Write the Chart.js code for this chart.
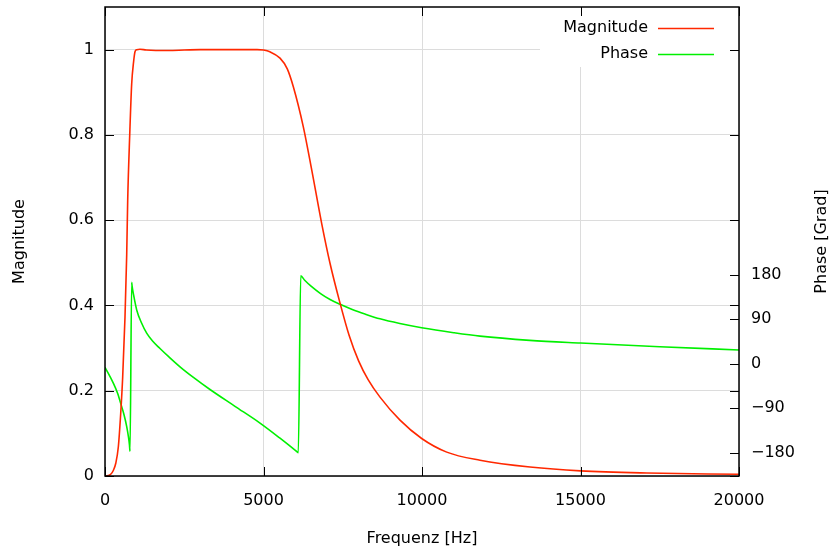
<!DOCTYPE html>
<html>
<head>
<meta charset="utf-8">
<script src="https://cdn.jsdelivr.net/npm/chart.js@4/dist/chart.umd.min.js"></script>
<style>
  html, body { margin: 0; padding: 0; background: #fff; }
  canvas { display: block; }
</style>
</head>
<body>
<canvas id="c" width="833" height="549"></canvas>
<script>
// ---- data ----
const magFreq = [0, 100, 180, 262, 340, 420, 495, 558, 631, 685, 716, 780, 842, 900, 946, 1000, 1100, 1300, 1600, 2000, 2500, 3000, 3500, 4000, 4500, 4800, 5000, 5200, 5521, 5750, 5941, 6256, 6521, 6836, 7098, 7391, 7700, 8000, 8300, 8675, 9306, 9990, 10780, 11830, 13407, 15000, 17090, 20000];
const magValues = [0, 0.001, 0.004, 0.013, 0.03, 0.068, 0.146, 0.232, 0.373, 0.52, 0.647, 0.8, 0.92, 0.97, 0.995, 1.0, 1.001, 0.999, 0.998, 0.998, 0.999, 1.0, 1.0, 1.0, 1.0, 1.0, 0.999, 0.995, 0.98, 0.955, 0.913, 0.819, 0.718, 0.592, 0.499, 0.412, 0.33, 0.27, 0.226, 0.185, 0.131, 0.088, 0.056, 0.037, 0.021, 0.012, 0.007, 0.004];
const phaseFreq = [0, 262, 400, 527, 600, 685, 740, 770, 789, 842, 855, 900, 1000, 1150, 1315, 1500, 1735, 2000, 2366, 2800, 3312, 4100, 4890, 5500, 6050, 6098, 6174, 6300, 6500, 6800, 7100, 7468, 7800, 8200, 8675, 9300, 9990, 11000, 11830, 13400, 15000, 17500, 20000];
const phaseValues = [-7, -39, -60, -87, -103, -127, -148, -163, -177, 165, 157, 140, 109, 83, 62, 46, 31, 15, -6, -28, -52, -86, -120, -149.5, -177.5, -180, 178, 169, 157, 142, 130, 119, 110, 100.8, 91, 81.5, 73, 63, 56, 47.5, 42, 34.5, 28];
const xTicks = [0, 5000, 10000, 15000, 20000];
const magTicks = [0, 0.2, 0.4, 0.6, 0.8, 1];
const phaseTicks = [-180, -90, 0, 90, 180];
const seriesNames = ['Magnitude', 'Phase'];
const axisTitles = { x: 'Frequenz [Hz]', y: 'Magnitude', y2: 'Phase [Grad]' };

// ---- styles ----
const RED = 'rgb(255,40,0)';
const GREEN = 'rgb(0,240,0)';
const FONT = '"DejaVu Sans", "Liberation Sans", sans-serif';
const GRID = '#dcdcdc';

const magData = magFreq.map((f, i) => ({ x: f, y: magValues[i] }));
const phaseData = phaseFreq.map((f, i) => ({ x: f, y: phaseValues[i] }));

const fmtNum = v => {
  const s = String(Math.round(v * 1000) / 1000);
  return s.replace('-', '\u2212');
};

const frame = {
  id: 'frame',
  beforeDatasetsDraw(chart) {
    const { ctx, chartArea: a } = chart;
    ctx.save();
    ctx.fillStyle = '#fff';
    ctx.fillRect(540, a.top, a.right - 540, 60);
    ctx.restore();
  },
  afterDatasetsDraw(chart) {
    const { ctx, chartArea: a, scales } = chart;
    ctx.save();
    // key
    ctx.font = '16px ' + FONT;
    ctx.fillStyle = '#000';
    ctx.textAlign = 'right';
    ctx.textBaseline = 'middle';
    const keyY = [27.5, 53.5];
    const cols = [RED, GREEN];
    seriesNames.forEach((n, i) => {
      ctx.fillText(n, 648, keyY[i]);
      ctx.strokeStyle = cols[i];
      ctx.lineWidth = 1.6;
      ctx.beginPath();
      ctx.moveTo(658, keyY[i] + 1);
      ctx.lineTo(714, keyY[i] + 1);
      ctx.stroke();
    });
    // ticks
    ctx.strokeStyle = '#000';
    ctx.lineWidth = 1;
    const T = 9;
    ctx.beginPath();
    xTicks.forEach(v => {
      const px = Math.round(scales.x.getPixelForValue(v)) + 0.5;
      ctx.moveTo(px, a.bottom); ctx.lineTo(px, a.bottom - T);
      ctx.moveTo(px, a.top); ctx.lineTo(px, a.top + T);
    });
    magTicks.forEach(v => {
      const py = Math.round(scales.y.getPixelForValue(v)) + 0.5;
      ctx.moveTo(a.left, py); ctx.lineTo(a.left + T, py);
      ctx.moveTo(a.right, py); ctx.lineTo(a.right - T, py);
    });
    phaseTicks.forEach(v => {
      const py = Math.round(scales.y2.getPixelForValue(v)) + 0.5;
      ctx.moveTo(a.right, py); ctx.lineTo(a.right - T, py);
    });
    ctx.stroke();
    // border
    ctx.lineWidth = 1.5;
    ctx.strokeRect(a.left, a.top, a.right - a.left, a.bottom - a.top);
    // right axis title (reads bottom to top)
    ctx.translate(822, (a.top + a.bottom) / 2);
    ctx.rotate(-Math.PI / 2);
    ctx.textAlign = 'center';
    ctx.textBaseline = 'middle';
    ctx.fillText(axisTitles.y2, 0, 0);
    ctx.restore();
  }
};

const fitV = w => s => { s.width = w; s.paddingTop = 0; s.paddingBottom = 0; };

new Chart(document.getElementById('c'), {
  type: 'line',
  data: {
    datasets: [
      { label: seriesNames[0], data: magData, yAxisID: 'y', borderColor: RED, borderWidth: 1.6, pointRadius: 0, cubicInterpolationMode: 'monotone', fill: false },
      { label: seriesNames[1], data: phaseData, yAxisID: 'y2', borderColor: GREEN, borderWidth: 1.6, pointRadius: 0, cubicInterpolationMode: 'monotone', fill: false }
    ]
  },
  options: {
    responsive: false,
    animation: false,
    devicePixelRatio: 1,
    layout: { padding: { top: 7, left: 0, right: 0, bottom: 0 } },
    plugins: { legend: { display: false }, tooltip: { enabled: false } },
    scales: {
      x: {
        type: 'linear', min: 0, max: 20000,
        afterBuildTicks: s => { s.ticks = xTicks.map(v => ({ value: v })); },
        afterFit: s => { s.height = 73; s.paddingLeft = 0; s.paddingRight = 0; },
        grid: { color: GRID, lineWidth: 1, drawTicks: false },
        border: { display: false },
        ticks: { color: '#000', font: { family: FONT, size: 16 }, padding: 15, maxRotation: 0, callback: v => fmtNum(v) },
        title: { display: true, text: axisTitles.x, color: '#000', font: { family: FONT, size: 16 }, padding: { top: 0, bottom: 1 } }
      },
      y: {
        type: 'linear', position: 'left', min: 0, max: 1.1,
        afterBuildTicks: s => { s.ticks = magTicks.map(v => ({ value: v })); },
        afterFit: fitV(105),
        grid: { color: GRID, lineWidth: 1, drawTicks: false },
        border: { display: false },
        ticks: { color: '#000', font: { family: FONT, size: 16 }, padding: 11, callback: v => fmtNum(v) },
        title: { display: true, text: axisTitles.y, color: '#000', font: { family: FONT, size: 16 }, padding: { top: 10, bottom: 0 } }
      },
      y2: {
        type: 'linear', position: 'right', min: -227, max: 722,
        afterBuildTicks: s => { s.ticks = phaseTicks.map(v => ({ value: v })); },
        afterFit: fitV(94),
        grid: { display: false, drawTicks: false },
        border: { display: false },
        ticks: { color: '#000', font: { family: FONT, size: 16 }, padding: 12, callback: v => fmtNum(v) }
      }
    }
  },
  plugins: [frame]
});
</script>
</body>
</html>
